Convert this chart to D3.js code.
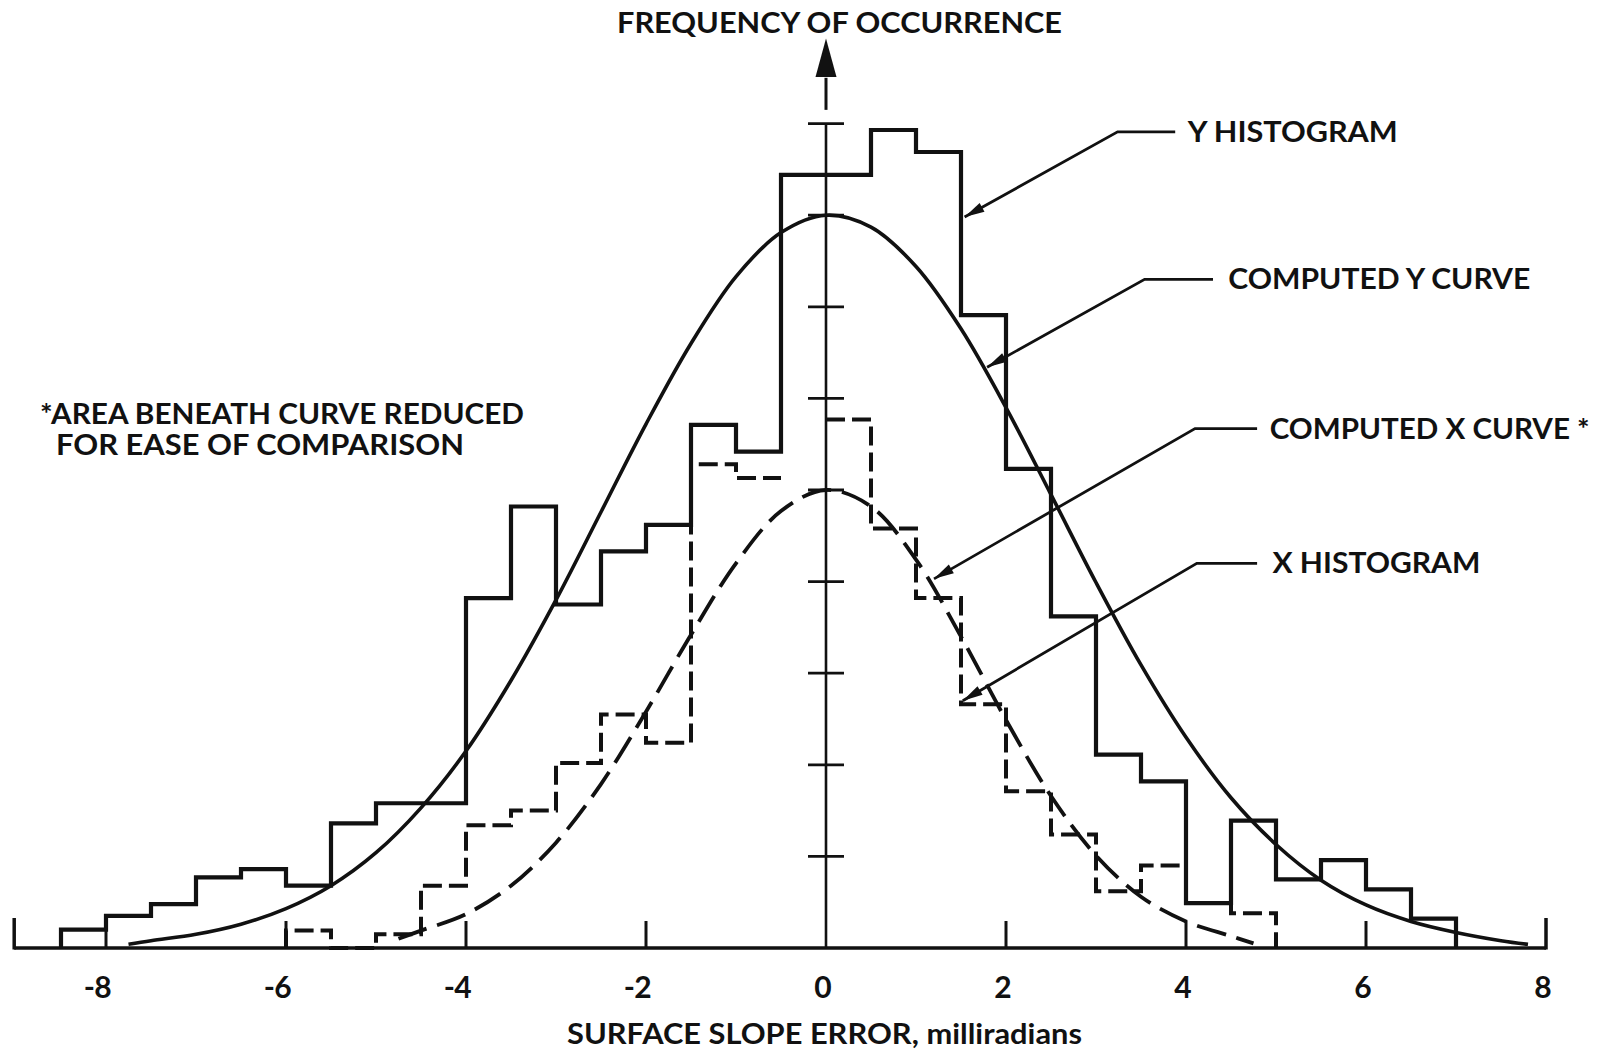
<!DOCTYPE html>
<html>
<head>
<meta charset="utf-8">
<title>Surface slope error histograms</title>
<script src="https://d3js.org/d3.v7.min.js"></script>
<style>
    body { margin: 0; background: #fff; }
    svg { display: block; }
    text { font-family: Lato, "DejaVu Sans", sans-serif; font-weight: 700; fill: #111; }
</style>
</head>
<body>
<div id="chart"></div>
<script>
// Chart size (matches the page window).
var width = 1616;
var height = 1055;

// Bin starts for both histograms (bins are 0.5 mrad wide).
var yBinStart = [-8.5, -8, -7.5, -7, -6.5, -6, -5.5, -5, -4.5, -4, -3.5, -3, -2.5, -2, -1.5, -1,
    -0.5, 0, 0.5, 1, 1.5, 2, 2.5, 3, 3.5, 4, 4.5, 5, 5.5, 6, 6.5];
var yHistogram = [0.2, 0.35, 0.48, 0.77, 0.86, 0.68, 1.36, 1.58, 1.58, 3.82, 4.82, 3.75, 4.33, 4.62, 5.71, 5.42,
    8.44, 8.44, 8.93, 8.69, 6.91, 5.23, 3.62, 2.11, 1.82, 0.49, 1.39, 0.75, 0.96, 0.64, 0.32];

// X histogram: the -0.5..0 bin runs under the solid lines, so it is left out (null).
var xBinStart = [-6, -5.5, -5, -4.5, -4, -3.5, -3, -2.5, -2, -1.5, -1, -0.5, 0, 0.5, 1, 1.5, 2, 2.5, 3, 3.5, 4, 4.5];
var xHistogram = [0.19, 0, 0.15, 0.68, 1.34, 1.5, 2.02, 2.55, 2.24, 5.28, 5.13, null, 5.77, 4.58, 3.82, 2.66,
    1.71, 1.24, 0.62, 0.9, 0.49, 0.38];

// Computed curves.
var yCurveX = [-7.75, -7.5, -7, -6.5, -6, -5.5, -5, -4.5, -4, -3.5, -3, -2.5, -2, -1.5, -1, -0.5, 0,
    0.5, 1, 1.5, 2, 2.5, 3, 3.5, 4, 4.5, 5, 5.5, 6, 6.5, 7, 7.5, 7.8];
var yCurve = [0.04, 0.08, 0.15, 0.26, 0.43, 0.68, 1.04, 1.53, 2.15, 2.92, 3.8, 4.76, 5.72, 6.6, 7.33, 7.81, 8.0,
    7.87, 7.44, 6.76, 5.9, 4.95, 3.99, 3.09, 2.3, 1.64, 1.13, 0.74, 0.47, 0.29, 0.17, 0.08, 0.04];

var xCurveX = [-4.75, -4.5, -4, -3.5, -3, -2.5, -2, -1.5, -1, -0.5, 0, 0.5, 1, 1.5, 2, 2.5, 3, 3.5, 4, 4.5, 4.75];
var xCurve = [0.1, 0.19, 0.37, 0.68, 1.15, 1.79, 2.58, 3.42, 4.2, 4.77, 5.0, 4.82, 4.24, 3.4, 2.49, 1.66, 1.01,
    0.56, 0.29, 0.13, 0.05];

// Axis ticks and labels.
var xTicks = [-8, -6, -4, -2, 2, 4, 6];
var xLabels = [-8, -6, -4, -2, 0, 2, 4, 6, 8];
var yTicks = [1, 2, 3, 4, 5, 6, 7, 8, 9];

// Leader lines: tip, elbow, end of horizontal (data units) and their label.
var leaderNames = ["Y HISTOGRAM", "COMPUTED Y CURVE", "COMPUTED X CURVE *", "X HISTOGRAM"];
var leaderTip = [[1.54, 7.98], [1.79, 6.34], [1.2, 4.03], [1.52, 2.7]];
var leaderElbow = [[3.24, 8.91], [3.54, 7.3], [4.1, 5.67], [4.12, 4.2]];
var leaderEnd = [3.88, 4.3, 4.79, 4.79];
var labelStart = [4.02, 4.47, 4.93, 4.96];
var labelWidth = [210, 302, 320, 208];

var x = d3.scaleLinear().domain([-9, 8]).range([16, 1546]);
var y = d3.scaleLinear().domain([0, 9]).range([948, 123.6]);

var svg = d3.select("#chart").append("svg")
    .attr("width", width)
    .attr("height", height);

// Build a step outline from bin starts and heights; a null bin breaks the line.
function stepPoints(starts, heights) {
    var pts = [[starts[0], 0]];
    for (var i = 0; i < starts.length; i++) {
        pts.push([starts[i], heights[i]]);
        pts.push([starts[i] + 0.5, heights[i]]);
    }
    pts.push([starts[starts.length - 1] + 0.5, 0]);
    return pts;
}

var line = d3.line()
    .defined(function (d) { return d[1] !== null; })
    .x(function (d) { return x(d[0]); })
    .y(function (d) { return y(d[1]); });

var smooth = d3.line()
    .x(function (d) { return x(d[0]); })
    .y(function (d) { return y(d[1]); })
    .curve(d3.curveCatmullRom.alpha(0.5));

// X histogram (dashed) first so the solid one sits on top.
svg.append("path")
    .attr("d", line(stepPoints(xBinStart, xHistogram)))
    .attr("fill", "none")
    .attr("stroke", "#111")
    .attr("stroke-width", 4)
    .attr("stroke-dasharray", "19,7");

svg.append("path")
    .attr("d", line(stepPoints(yBinStart, yHistogram)))
    .attr("fill", "none")
    .attr("stroke", "#111")
    .attr("stroke-width", 4.2)
    .attr("stroke-linejoin", "miter");

// Computed curves.
svg.append("path")
    .attr("d", smooth(yCurveX.map(function (v, i) { return [v, yCurve[i]]; })))
    .attr("fill", "none")
    .attr("stroke", "#111")
    .attr("stroke-width", 3.6);

svg.append("path")
    .attr("d", smooth(xCurveX.map(function (v, i) { return [v, xCurve[i]]; })))
    .attr("fill", "none")
    .attr("stroke", "#111")
    .attr("stroke-width", 3.8)
    .attr("stroke-dasharray", "30,11");

// Horizontal axis with end ticks.
var axis = svg.append("g").attr("stroke", "#111");
axis.append("line")
    .attr("x1", x(-9.02)).attr("x2", x(8))
    .attr("y1", y(0)).attr("y2", y(0))
    .attr("stroke-width", 3.5);
axis.selectAll(".xtick")
    .data(xTicks)
    .enter().append("line")
    .attr("x1", function (d) { return x(d); })
    .attr("x2", function (d) { return x(d); })
    .attr("y1", y(0)).attr("y2", y(0) - 27)
    .attr("stroke-width", 3);
axis.selectAll(".xend")
    .data([-9.02, 8])
    .enter().append("line")
    .attr("x1", function (d) { return x(d); })
    .attr("x2", function (d) { return x(d); })
    .attr("y1", y(0) + 1.5).attr("y2", y(0) - 30)
    .attr("stroke-width", 3.5);

// Vertical axis, ticks and arrow.
axis.append("line")
    .attr("x1", x(0)).attr("x2", x(0))
    .attr("y1", y(0)).attr("y2", y(9))
    .attr("stroke-width", 2.6);
axis.selectAll(".ytick")
    .data(yTicks)
    .enter().append("line")
    .attr("x1", x(0) - 18).attr("x2", x(0) + 18)
    .attr("y1", function (d) { return y(d); })
    .attr("y2", function (d) { return y(d); })
    .attr("stroke-width", 2.8);
axis.append("line")
    .attr("x1", x(0)).attr("x2", x(0))
    .attr("y1", y(9.15)).attr("y2", y(9.5))
    .attr("stroke-width", 3);
svg.append("path")
    .attr("d", "M" + x(0) + "," + y(9.93) + "L" + (x(0) + 10.5) + "," + y(9.51) +
        "L" + (x(0) - 10.5) + "," + y(9.51) + "Z")
    .attr("fill", "#111");

// Tick labels: digit centred on the tick, minus sign hanging to the left.
var labels = svg.append("g");
labels.selectAll(".num")
    .data(xLabels)
    .enter().append("text")
    .attr("x", function (d) { return x(d) - 3; })
    .attr("y", 998)
    .attr("text-anchor", "middle")
    .style("font-size", "30px")
    .text(function (d) { return Math.abs(d); });
labels.selectAll(".minus")
    .data(xLabels.filter(function (d) { return d < 0; }))
    .enter().append("text")
    .attr("x", function (d) { return x(d) - 11; })
    .attr("y", 998)
    .attr("text-anchor", "end")
    .style("font-size", "30px")
    .text("-");

// Titles.
svg.append("text")
    .attr("x", 617).attr("y", 33)
    .attr("textLength", 445).attr("lengthAdjust", "spacingAndGlyphs")
    .style("font-size", "28px")
    .text("FREQUENCY OF OCCURRENCE");

var xtitle = svg.append("text")
    .attr("x", 567).attr("y", 1044)
    .attr("textLength", 515).attr("lengthAdjust", "spacingAndGlyphs")
    .style("font-size", "28px");
xtitle.append("tspan").text("SURFACE SLOPE ERROR, ");
xtitle.append("tspan").text("milliradians");

svg.append("text")
    .attr("x", 40).attr("y", 424)
    .attr("textLength", 484).attr("lengthAdjust", "spacingAndGlyphs")
    .style("font-size", "28px")
    .text("*AREA BENEATH CURVE REDUCED");
svg.append("text")
    .attr("x", 56).attr("y", 455)
    .attr("textLength", 408).attr("lengthAdjust", "spacingAndGlyphs")
    .style("font-size", "28px")
    .text("FOR EASE OF COMPARISON");

// Leader lines with arrowheads pointing at each series.
leaderNames.forEach(function (name, i) {
    var tip = [x(leaderTip[i][0]), y(leaderTip[i][1])];
    var elbow = [x(leaderElbow[i][0]), y(leaderElbow[i][1])];
    var end = [x(leaderEnd[i]), elbow[1]];
    svg.append("path")
        .attr("d", "M" + end + "L" + elbow + "L" + tip)
        .attr("fill", "none")
        .attr("stroke", "#111")
        .attr("stroke-width", 2.8);

    // Small filled head along the diagonal.
    var dx = elbow[0] - tip[0], dy = elbow[1] - tip[1];
    var len = Math.sqrt(dx * dx + dy * dy);
    var ux = dx / len, uy = dy / len;
    var bx = tip[0] + ux * 20, by = tip[1] + uy * 20;
    svg.append("path")
        .attr("d", "M" + tip + "L" + (bx - uy * 5) + "," + (by + ux * 5) +
            "L" + (bx + uy * 5) + "," + (by - ux * 5) + "Z")
        .attr("fill", "#111");

    svg.append("text")
        .attr("x", x(labelStart[i]))
        .attr("y", elbow[1] + 10)
        .attr("textLength", labelWidth[i]).attr("lengthAdjust", "spacingAndGlyphs")
        .style("font-size", "28px")
        .text(name);
});
</script>
</body>
</html>
